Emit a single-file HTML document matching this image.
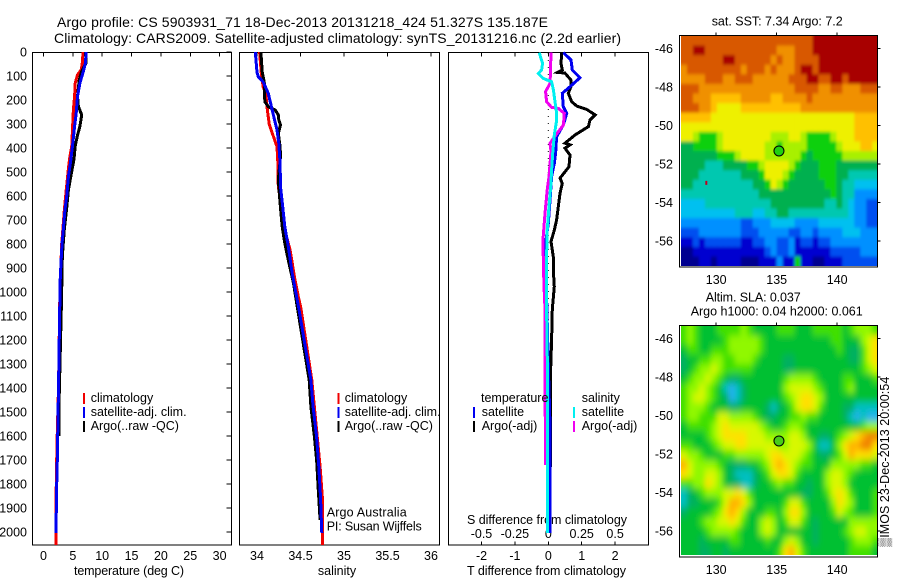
<!DOCTYPE html>
<html>
<head>
<meta charset="utf-8">
<title>Argo profile</title>
<style>
html,body{margin:0;padding:0;background:#fff}
svg{display:block}
text{font-family:"Liberation Sans","DejaVu Sans",sans-serif;font-size:12.5px;fill:#000}
.title{font-size:14px}
</style>
</head>
<body>
<svg id="root" width="900" height="580" viewBox="0 0 900 580" xmlns="http://www.w3.org/2000/svg">
<defs>
<clipPath id="clip-sst"><rect x="681" y="36" width="196" height="230"/></clipPath>
<clipPath id="clip-sla"><rect x="681" y="326" width="196" height="229"/></clipPath>
<filter id="soft-sla" filterUnits="userSpaceOnUse" x="640" y="290" width="260" height="290"><feGaussianBlur stdDeviation="2.6 3.8"/></filter>
<filter id="soft-sst" filterUnits="userSpaceOnUse" x="640" y="0" width="260" height="290"><feGaussianBlur stdDeviation="1.2 1.6"/></filter>
</defs>
<text class="title" x="57" y="27" textLength="491">Argo profile: CS 5903931_71 18-Dec-2013 20131218_424 51.327S 135.187E</text>
<text class="title" x="54" y="43" textLength="567">Climatology: CARS2009. Satellite-adjusted climatology: synTS_20131216.nc (2.2d earlier)</text>
<text x="129" y="575" text-anchor="middle" textLength="110">temperature (deg C)</text>
<text x="337" y="575" text-anchor="middle">salinity</text>
<text x="467" y="575" textLength="159">T difference from climatology</text>
<text x="467" y="524" textLength="160">S difference from climatology</text>
<text x="711.7" y="25.7" textLength="131">sat. SST: 7.34 Argo: 7.2</text>
<text x="705.7" y="301.7" textLength="95">Altim. SLA: 0.037</text>
<text x="690.7" y="315.7" textLength="172">Argo h1000: 0.04 h2000: 0.061</text>
<text transform="translate(889 546.7) rotate(-90)" x="0" y="0" textLength="170">▒IMOS 23-Dec-2013 20:00:54</text>
<text x="326.7" y="516.7" textLength="80">Argo Australia</text>
<text x="326.7" y="530.7" textLength="95">PI: Susan Wijffels</text>
<g id="plots"></g>
</svg>
<script>
// ---- Temperature panel (deg C vs depth, dbar)
const tempClimDepth = [0,50,75,95,130,185,240,340,395,435,475,520,580,660,720,800,900,1000,1400,1630,1850,2054];
const tempClimValue = [6.75,6.6,6.4,5.8,5.4,5.3,5.1,4.9,4.8,4.5,4.3,4.1,3.85,3.55,3.35,3.1,2.95,2.8,2.55,2.3,2.15,2.1];
const tempSatDepth = [0,45,80,130,185,260,310,380,460,520,600,660,730,800,870,950,1020,1400,1700,1850,2005];
const tempSatValue = [7.25,7.15,6.8,6.2,5.8,5.55,5.3,5,4.6,4.25,3.95,3.65,3.4,3.15,3,2.85,2.8,2.55,2.35,2.2,2.15];
const tempArgoDepth = [0,45,80,115,185,227,262,310,350,392,447,498,575,650,740,835,890,1000,1450,1600];
const tempArgoValue = [7.15,7.25,6.5,6.1,5.8,5.95,6.5,6.2,5.75,5.4,5.2,4.8,4.25,3.95,3.55,3.25,3.15,3.1,2.65,2.65];
// ---- Salinity panel
const salClimDepth = [0,89,144,172,242,300,353,394,464,561,644,742,825,936,1019,1068,1367,1728,1853,2054];
const salClimValue = [34.03,34.05,34.07,34.10,34.12,34.14,34.19,34.23,34.24,34.245,34.28,34.32,34.38,34.43,34.475,34.505,34.63,34.725,34.75,34.75];
const salSatDepth = [0,86,103,124,172,235,325,380,464,561,644,728,811,922,1019,1068,1367,1478,1603,1728,1853,2005];
const salSatValue = [33.98,34.0,34.015,34.07,34.13,34.17,34.23,34.25,34.265,34.27,34.295,34.32,34.36,34.405,34.455,34.48,34.62,34.645,34.685,34.71,34.73,34.745];
const salArgoDepth = [0,82,130,207,228,242,262,283,304,339,394,436,533,631,728,797,867,964,1068,1367,1478,1603,1700,1825,1950];
const salArgoValue = [34.045,34.06,34.085,34.09,34.13,34.21,34.245,34.25,34.27,34.245,34.265,34.27,34.245,34.265,34.29,34.32,34.36,34.42,34.465,34.6,34.62,34.66,34.685,34.705,34.725];
// ---- Difference panel
const diffTArgoDepth = [3,47,75,85,88,117,144,172,207,225,239,262,283,311,346,380,387,401,429,478,526,547,589,644,700,742,790,853,908,978,1072,1200,1367,1730];
const diffTArgoValue = [.40,.38,.42,.28,.50,.68,.68,.60,.70,.85,1.15,1.40,1.25,1.20,.80,.50,.65,.50,.65,.62,.35,.42,.35,.30,.25,.18,.08,.15,.15,.18,.12,.10,.06,.06];
const diffTSatDepth = [3,33,75,107,151,172,228,256,304,353,422,464,519,603,714,783,881,1019,1300,1554,2005];
const diffTSatValue = [.45,.68,.72,.95,.60,.42,.45,.55,.45,.25,.22,.18,.10,.06,0,-.07,-.07,-.05,0,.05,.05];
const diffSSatDepth = [3,47,75,89,110,124,158,207,256,283,346,422,492,561,644,742,853,964,1072,1367,2005];
const diffSSatValue = [-.068,-.043,-.05,-.075,-.038,.025,.038,.05,.063,.063,.045,.033,.025,.018,.005,-.008,-.013,-.013,-.013,-.005,-.005];
const diffSArgoDepth = [3,103,131,165,207,231,235,256,304,332,360,381,415,519,575,672,769,839,964,1072,1367,1721];
const diffSArgoValue = [.02,.015,.013,-.02,-.013,.025,.075,.12,.113,.075,.038,.013,.02,.005,-.008,-.025,-.038,-.038,-.033,-.025,-.025,-.02];
// ---- Axis ticks
const depthTicks = [0,100,200,300,400,500,600,700,800,900,1000,1100,1200,1300,1400,1500,1600,1700,1800,1900,2000];
const tempTicks = [0,5,10,15,20,25,30];
const salTicks = [34,34.5,35,35.5,36];
const salTickLabels = ['34','34.5','35','35.5','36'];
const diffTTicks = [-2,-1,0,1,2];
const diffSTicks = [-.5,-.25,0,.25,.5];
const diffSTickLabels = ['-0.5','-0.25','0','0.25','0.5'];
const lonTicks = [130,135,140];
const latTicks = [-46,-48,-50,-52,-54,-56];
const profileLon = 135.187;
const profileLat = -51.327;
// ---- SST map: colour-bin level for each cell, north to south
const sstLevels = [
[12,12,12,12,12,12,12,12,12,12,12,12,12,12,12,12,12,12,12,12,12,12,13,13,13,13,13,13,13,13,13,13,13],
[12,12,13,13,12,12,12,12,12,12,12,12,12,12,12,12,11,11,11,12,12,12,13,13,13,13,13,13,13,13,13,13,13],
[12,12,12,12,12,12,12,13,13,12,12,12,12,12,12,11,12,11,11,12,12,12,12,13,13,13,13,13,13,13,13,13,13],
[11,12,12,12,12,12,12,12,12,12,11,12,12,12,11,12,11,11,11,12,13,13,12,13,13,13,13,13,13,13,13,13,13],
[11,11,11,11,12,12,12,11,11,12,12,12,11,11,11,11,11,11,12,12,12,13,13,12,12,13,13,12,13,13,13,13,13],
[12,12,12,11,11,11,11,11,11,11,11,11,11,11,11,11,11,11,11,12,12,12,12,11,11,12,12,11,11,11,12,12,12],
[12,12,11,11,11,10,10,10,10,10,11,11,11,11,11,10,10,11,11,11,11,12,11,11,11,11,11,11,11,11,11,11,11],
[12,12,12,11,11,10,9,9,9,9,10,10,10,10,10,10,10,10,10,10,11,11,11,11,11,11,11,11,11,11,11,11,11],
[10,10,10,10,10,9,9,9,9,9,9,9,9,9,9,9,9,9,9,9,9,9,9,9,9,9,9,9,9,10,10,10,10],
[9,9,9,9,9,9,9,9,9,9,9,9,9,9,9,9,9,9,9,9,9,9,9,9,9,9,9,9,9,10,10,10,10],
[9,9,8,7,7,7,8,9,9,9,9,9,9,9,9,8,8,8,9,9,8,7,7,7,7,8,9,9,9,10,10,10,10],
[6,6,7,7,7,7,8,9,9,9,9,9,9,9,8,8,7,8,8,8,8,7,7,7,7,7,8,9,9,9,10,10,9],
[6,6,6,6,6,6,7,7,7,8,9,9,9,9,8,8,8,8,8,8,7,6,7,7,7,7,7,8,8,8,8,8,8],
[6,6,6,6,5,5,5,6,6,6,6,7,7,8,9,9,9,9,8,7,6,6,6,7,7,7,6,6,6,6,6,6,6],
[6,6,6,5,5,5,5,5,5,5,6,6,6,7,9,9,9,8,7,6,6,6,6,7,7,7,6,6,5,5,5,5,5],
[6,6,5,5,5,5,5,5,5,5,5,5,6,6,7,9,8,7,6,6,6,6,6,6,7,7,6,5,5,4,4,4,4],
[5,5,5,5,5,5,5,5,5,5,5,5,5,6,6,6,6,6,6,6,6,6,6,6,6,7,6,5,5,3,3,3,3],
[4,4,4,4,5,5,5,5,5,5,5,5,5,5,5,6,6,6,6,6,6,6,6,6,5,5,6,5,4,3,3,2,2],
[4,4,4,4,4,4,4,4,4,5,5,5,4,4,5,5,6,6,5,5,5,5,5,5,5,5,5,5,4,3,3,2,2],
[3,3,3,3,3,3,3,3,3,3,2,2,3,3,3,4,4,4,4,3,3,3,3,4,4,4,4,4,4,3,3,2,2],
[2,2,2,3,3,3,3,3,3,3,2,2,2,3,3,3,3,3,2,2,3,3,2,3,3,3,3,4,4,4,3,3,3],
[1,1,2,1,2,2,2,2,2,2,1,1,2,2,3,3,2,2,3,1,2,2,1,2,2,3,3,3,3,3,3,3,3],
[0,0,1,1,1,1,1,1,1,1,1,1,1,1,2,3,2,2,3,1,1,1,1,1,1,2,2,2,2,2,3,3,3],
[0,0,0,1,1,0,1,1,1,1,0,0,0,1,1,1,3,1,1,7,1,1,0,0,1,1,1,2,2,2,2,2,2]
];
// ---- Altimetry SLA map: colour-bin level for each cell, north to south
const slaLevels = [
[4,5,4,3,3,3,4,4,4,4,5,4,3,3,3,3,4,4,4,3,3,3,4,4,4,4,4,3,4,5,5,5,4],
[4,5,4,3,3,3,3,4,5,5,5,5,5,4,3,3,3,3,3,3,3,3,3,3,3,4,4,3,3,3,5,6,7],
[3,4,4,3,3,4,4,4,5,5,5,5,5,4,3,3,3,3,3,3,3,3,3,3,3,3,4,3,2,2,4,6,7],
[2,3,3,4,4,5,5,4,4,5,5,5,4,3,3,3,3,2,2,3,3,3,3,3,3,3,3,3,2,2,4,6,7],
[2,3,4,5,5,6,5,4,4,4,4,4,3,3,3,3,3,2,2,3,3,3,3,3,3,3,3,3,3,3,4,5,6],
[3,4,5,5,6,5,4,3,2,2,3,3,3,3,3,3,3,4,5,5,5,5,4,3,3,3,3,4,4,3,3,3,4],
[4,5,5,6,5,4,3,1,0,1,2,3,3,3,3,3,3,5,6,6,6,6,5,4,3,3,3,4,5,3,3,3,3],
[4,5,6,6,5,4,3,2,0,1,2,3,3,3,3,3,3,4,5,6,7,7,6,5,3,3,3,3,3,3,3,3,3],
[4,5,5,5,4,3,3,3,2,2,3,3,3,3,2,1,2,3,4,6,7,7,6,4,3,3,3,2,2,1,1,1,1],
[4,5,5,4,4,4,6,6,5,5,5,5,4,3,2,2,3,3,4,4,5,4,4,3,3,3,3,2,1,0,1,0,0],
[3,4,4,4,4,5,6,7,6,6,6,6,6,5,4,3,3,4,5,5,4,3,3,3,3,3,3,3,3,3,4,5,5],
[3,3,3,3,4,5,6,7,7,7,7,6,6,6,5,5,5,5,6,6,5,3,3,2,2,3,4,5,6,7,8,9,9],
[4,4,3,3,3,4,5,6,6,7,7,6,6,6,6,6,5,5,6,6,6,5,3,1,1,3,5,7,8,8,9,9,7],
[6,5,5,4,3,3,3,4,4,5,5,5,5,5,6,7,7,6,6,6,5,4,3,2,2,3,4,6,8,7,7,7,6],
[8,6,5,5,5,5,4,3,2,2,2,3,3,4,5,7,8,7,6,5,4,4,3,3,3,5,5,5,5,5,4,4,3],
[7,6,5,5,6,6,5,3,2,1,1,1,2,3,4,6,7,7,6,4,3,3,3,3,5,6,6,5,4,3,3,3,3],
[4,4,5,5,7,6,5,3,2,2,1,1,2,3,3,4,5,4,4,3,3,2,3,3,5,6,6,5,3,3,3,3,3],
[1,2,3,4,5,5,5,6,6,7,6,4,3,3,3,3,3,3,3,3,2,2,3,3,4,6,7,6,4,3,3,3,4],
[1,2,2,3,3,3,4,6,8,8,7,5,3,3,3,3,3,4,6,6,4,3,3,3,3,5,7,6,5,3,3,3,4],
[2,3,3,3,3,4,5,7,8,7,5,3,3,3,4,4,3,5,7,7,5,3,3,3,3,4,6,5,4,3,3,3,4],
[3,3,3,4,5,5,6,6,7,6,4,3,3,5,6,5,3,4,6,6,4,3,2,3,3,3,3,3,5,5,5,5,5],
[3,3,3,3,4,5,5,5,5,4,3,3,3,5,6,5,3,3,3,3,3,3,2,3,3,3,3,4,5,6,6,5,5],
[3,3,3,2,3,3,3,3,4,4,3,3,3,3,4,3,3,5,6,5,3,3,2,3,3,3,3,3,4,5,5,5,4],
[3,3,3,2,2,3,3,2,3,3,3,3,3,3,3,3,4,7,8,6,4,3,3,3,3,3,3,3,4,4,4,4,3]
];
const sstColours = ['#000090','#0000d0','#0050f0','#0090ff','#00c0f0','#00c8b0','#00b050','#10d010','#a8f000','#eef000','#ffc000','#f09000','#d85800','#a80000'];
const slaColours = ['#20b0f0','#00c0c0','#00b060','#00c030','#40e000','#90f800','#d8f800','#ffe000','#ffb000','#f08000'];

const NS = 'http://www.w3.org/2000/svg';
const plots = document.getElementById('plots');
function mk(tag, attrs, parent) {
  const el = document.createElementNS(NS, tag);
  for (const k in attrs) el.setAttribute(k, attrs[k]);
  (parent || plots).appendChild(el);
  return el;
}
function label(parent, x, y, str, anchor) {
  const t = mk('text', {x: x, y: y, 'text-anchor': anchor || 'middle'}, parent);
  t.textContent = str;
  return t;
}
// axis functions
const yDepth = d => 52 + d * 0.24;
const xTemp = v => 43.5 + v * 5.87;
const xSal = v => 257 + (v - 34) * 87;
const xDiffT = v => 548.3 + v * 33.4;
const xDiffS = v => 548.3 + v * 133.6;
const xLon = v => 776.7 + (v - 135) * 12.1;
const ySst = v => 48.3 + (-46 - v) * 19.27;
const ySla = v => 338.3 + (-46 - v) * 19.27;

function drawLine(name, xFn, depths, values, colour, width) {
  const pts = depths.map((d, i) => xFn(values[i]).toFixed(1) + ',' + yDepth(d).toFixed(1)).join(' ');
  const line = mk('polyline', {points: pts, fill: 'none', stroke: colour, 'stroke-width': width || 2, 'shape-rendering': 'crispEdges'});
  
  
}
function drawFrame(name, x, y, w, h) {
  const f = mk('rect', {x: x, y: y, width: w, height: h, fill: 'none', stroke: '#000', 'stroke-width': 1, 'shape-rendering': 'crispEdges'});
  
  
}
function tick(name, x1, y1, x2, y2) {
  const t = mk('line', {x1: x1, y1: y1, x2: x2, y2: y2, stroke: '#000', 'stroke-width': 1, 'shape-rendering': 'crispEdges'});
  
  
}
function tickLabel(name, x, y, str, anchor) {
  const t = label(plots, x, y, str, anchor);
  
  
}

// maps
function drawMap(name, levels, colours, lon0, lonStep, latTop, latStep, yFn, clipId, filterId, edgePad) {
  const clip = mk('g', {'clip-path': 'url(#' + clipId + ')'});
  
  
  const g = mk('g', {filter: 'url(#' + filterId + ')'}, clip);
  levels.forEach((row, r) => {
    row.forEach((lev, c) => {
      let x = xLon(lon0 + c * lonStep), w = xLon(lon0 + (c + 1) * lonStep) - x;
      let y = yFn(latTop - r * latStep), h = yFn(latTop - (r + 1) * latStep) - y;
      if (c === 0) { x -= edgePad; w += edgePad; }
      if (c === row.length - 1) { w += edgePad; }
      if (r === 0) { y -= edgePad; h += edgePad; }
      if (r === levels.length - 1) { h += edgePad; }
      const cell = mk('rect', {x: x.toFixed(2), y: y.toFixed(2), width: (w + 0.4).toFixed(2), height: (h + 0.4).toFixed(2), fill: colours[lev]}, g);
      
      
    });
  });
}
drawMap('sst-map', sstLevels, sstColours, 127.09, 16.3 / 33, -45.36, 11.94 / 24, ySst, 'clip-sst', 'soft-sst', 10);
drawMap('sla-map', slaLevels, slaColours, 127.09, 16.3 / 33, -45.36, 11.9 / 24, ySla, 'clip-sla', 'soft-sla', 25);

const redSpeck = mk('rect', {x: xLon(129.1), y: ySst(-52.88), width: 2, height: 4, fill: '#c00020'});



// map frames, ticks, labels
[['sst', 35.5, 231.5, ySst, 284, '#20d010'], ['sla', 325.5, 231.5, ySla, 574, '#48cc18']].forEach(m => {
  drawFrame(m[0] + '-map-frame', 679.5, m[1], 198, m[2]);
  lonTicks.forEach(v => {
    tick(m[0] + '-lon-tick', xLon(v), m[1] - 3, xLon(v), m[1]);
    tickLabel(m[0] + '-lon-label', xLon(v), m[4], String(v));
  });
  latTicks.forEach(v => {
    tick(m[0] + '-lat-tick', 877.5, m[3](v), 880.5, m[3](v));
    tickLabel(m[0] + '-lat-label', 673, m[3](v) + 4.5, String(v), 'end');
  });
  const marker = mk('circle', {cx: xLon(profileLon), cy: m[3](profileLat), r: 5, fill: m[5], stroke: '#000', 'stroke-width': 1});
  
  
});

// temperature panel
drawFrame('temperature-panel-frame', 32.5, 52.5, 199, 492.5);
depthTicks.forEach(d => {
  tick('depth-tick', 226.5, yDepth(d), 231.5, yDepth(d));
  tickLabel('depth-label', 27, yDepth(d) + 4.5, String(d), 'end');
});
tempTicks.forEach(v => {
  tick('temperature-tick', xTemp(v), 52.5, xTemp(v), 56.5);
  tickLabel('temperature-label', xTemp(v), 560, String(v));
});
drawLine('temperature-climatology-line', xTemp, tempClimDepth, tempClimValue, '#f00000', 3);
drawLine('temperature-argo-line', xTemp, tempArgoDepth, tempArgoValue, '#000000', 3);
drawLine('temperature-satellite-line', xTemp, tempSatDepth, tempSatValue, '#0000f0', 3);

// salinity panel
drawFrame('salinity-panel-frame', 239.5, 52.5, 200, 492.5);
salTicks.forEach((v, i) => {
  tick('salinity-tick', xSal(v), 52.5, xSal(v), 56.5);
  tickLabel('salinity-label', xSal(v), 560, salTickLabels[i]);
});
drawLine('salinity-climatology-line', xSal, salClimDepth, salClimValue, '#f00000', 3);
drawLine('salinity-argo-line', xSal, salArgoDepth, salArgoValue, '#000000', 3);
drawLine('salinity-satellite-line', xSal, salSatDepth, salSatValue, '#0000f0', 3);

// difference panel
drawFrame('difference-panel-frame', 448.5, 52.5, 200, 492.5);
const zero = mk('line', {x1: 548.3, y1: 53, x2: 548.3, y2: 500, stroke: '#000', 'stroke-width': 1, 'stroke-dasharray': '1 6'});


diffTTicks.forEach(v => {
  tick('t-difference-top-tick', xDiffT(v), 52.5, xDiffT(v), 56.5);
  tick('t-difference-bottom-tick', xDiffT(v), 541.5, xDiffT(v), 545);
  tickLabel('t-difference-label', xDiffT(v), 560, String(v));
});
diffSTicks.forEach((v, i) => {
  tickLabel('s-difference-label', xDiffS(v), 538, diffSTickLabels[i]);
});
drawLine('t-difference-argo-line', xDiffT, diffTArgoDepth, diffTArgoValue, '#000000', 3);
drawLine('t-difference-satellite-line', xDiffT, diffTSatDepth, diffTSatValue, '#0000f0', 3);
drawLine('s-difference-argo-line', xDiffS, diffSArgoDepth, diffSArgoValue, '#f000f0', 3);
drawLine('s-difference-satellite-line', xDiffS, diffSSatDepth, diffSSatValue, '#00f0f0', 3);

// legends
function legend(name, barX, textX, top, colour, str) {
  const bar = mk('rect', {x: barX, y: top, width: 2, height: 11, fill: colour, 'shape-rendering': 'crispEdges'});
  
  
  const t = label(plots, textX, top + 9, str, 'start');
  
  
}
legend('legend-temperature-climatology', 83, 90.7, 393, '#f00000', 'climatology');
legend('legend-temperature-satellite', 83, 90.7, 407, '#0000f0', 'satellite-adj. clim.');
legend('legend-temperature-argo', 83, 90.7, 421, '#000000', 'Argo(..raw -QC)');
legend('legend-salinity-climatology', 337.5, 344.7, 393, '#f00000', 'climatology');
legend('legend-salinity-satellite', 337.5, 344.7, 407, '#0000f0', 'satellite-adj. clim.');
legend('legend-salinity-argo', 337.5, 344.7, 421, '#000000', 'Argo(..raw -QC)');
legend('legend-t-satellite', 473, 481.7, 407, '#0000f0', 'satellite');
legend('legend-t-argo', 473, 481.7, 421, '#000000', 'Argo(-adj)');
legend('legend-s-satellite', 573, 581.7, 407, '#00f0f0', 'satellite');
legend('legend-s-argo', 573, 581.7, 421, '#f000f0', 'Argo(-adj)');
const lt = label(plots, 481, 402, 'temperature', 'start');


const ls = label(plots, 581.7, 402, 'salinity', 'start');


</script>
</body>
</html>
